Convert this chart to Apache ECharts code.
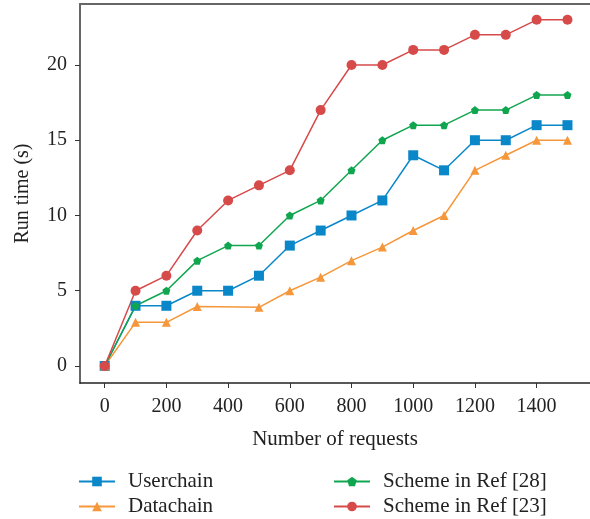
<!DOCTYPE html>
<html>
<head>
<meta charset="utf-8">
<script src="https://cdn.jsdelivr.net/npm/echarts@6/dist/echarts.min.js"></script>
<style>html,body{margin:0;padding:0;background:#fff}#c{width:590px;height:519px}</style>
</head>
<body>
<div id="c"></div>
<script>
const requests = [0,100,200,300,400,500,600,700,800,900,1000,1100,1200,1300,1400,1500];
const userchain = [0,4,4,5,5,6,8,9,10,11,14,13,15,15,16,16];
const datachain = [0,2.9,2.9,3.95,null,3.9,5,5.9,7,7.9,9,10,13,14,15,15];
const ref28 = [0,4,5,7,8,8,10,11,13,15,16,16,17,17,18,18];
const ref23 = [0,5,6,9,11,12,13,17,20,20,21,21,22,22,23,23];
const xTicks = [0,200,400,600,800,1000,1200,1400];
const yTicks = [0,5,10,15,20];
const seriesNames = ['Userchain','Datachain','Scheme in Ref [28]','Scheme in Ref [23]'];

const pentagon = 'path://M0,-1 L0.951,-0.309 L0.588,0.809 L-0.588,0.809 L-0.951,-0.309 Z';
const font = 'Liberation Serif';
function pairs(ys){ return requests.map((x,i)=>[x, ys[i]]); }

const legendPos = [[78,471],[78,496],[333,471],[333,496]];
const legends = seriesNames.map((n,i)=>({
  orient:'horizontal', left:legendPos[i][0], top:legendPos[i][1],
  itemWidth:36, itemHeight:12, padding:0,
  textStyle:{fontFamily:font, fontSize:21, color:'#222', padding:[0,0,0,8]},
  data:[n]
}));

const chart = echarts.init(document.getElementById('c'), null, {renderer:'canvas'});
chart.setOption({
  animation:false,
  textStyle:{fontFamily:font},
  grid:{left:80, right:0, top:4, bottom:136, containLabel:false},
  xAxis:[{
    type:'value', min:-80, max:1573,
    name:'Number of requests', nameLocation:'middle', nameGap:46,
    nameTextStyle:{fontFamily:font, fontSize:21, color:'#222'},
    axisLine:{show:true, onZero:false, lineStyle:{color:'#222', width:1.5}},
    axisTick:{show:true, length:5, customValues:xTicks, lineStyle:{color:'#333'}},
    axisLabel:{customValues:xTicks, fontFamily:font, fontSize:20, color:'#222', margin:14,
      formatter:v=>String(v)},
    splitLine:{show:false}
  },{
    type:'value', position:'top', min:-80, max:1573,
    axisLine:{show:true, onZero:false, lineStyle:{color:'#666', width:2}},
    axisTick:{show:false}, axisLabel:{show:false}, splitLine:{show:false}
  }],
  yAxis:{
    type:'value', min:-1.13, max:24.05,
    name:'Run time (s)', nameLocation:'middle', nameGap:47,
    nameTextStyle:{fontFamily:font, fontSize:20, color:'#222'},
    axisLine:{show:true, onZero:false, lineStyle:{color:'#666', width:2}},
    axisTick:{show:true, length:5, customValues:yTicks, lineStyle:{color:'#333'}},
    axisLabel:{customValues:yTicks, fontFamily:font, fontSize:20, color:'#222', margin:13},
    splitLine:{show:false}
  },
  legend:legends,
  series:[
    {name:seriesNames[0], type:'line', data:pairs(userchain), symbol:'rect', symbolSize:10,
     color:'#0a87c8', lineStyle:{width:1.5}},
    {name:seriesNames[1], type:'line', data:pairs(datachain), connectNulls:true, symbol:'triangle', symbolSize:9,
     color:'#f5973a', lineStyle:{width:1.5}},
    {name:seriesNames[2], type:'line', data:pairs(ref28), symbol:pentagon, symbolSize:8,
     color:'#10a64f', lineStyle:{width:1.5}},
    {name:seriesNames[3], type:'line', data:pairs(ref23), symbol:'circle', symbolSize:10,
     color:'#d64a4a', lineStyle:{width:1.5}}
  ]
});
</script>
</body>
</html>
